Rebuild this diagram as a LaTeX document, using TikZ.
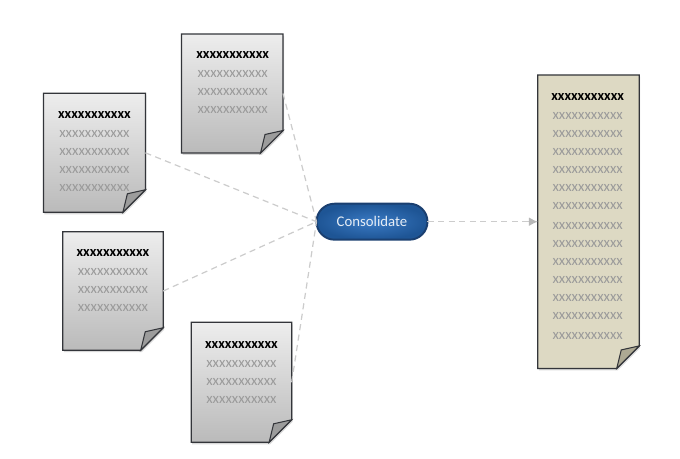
\documentclass[tikz,border=0pt]{standalone}
\usepackage{fontspec}
\setmainfont{Carlito}
\usepackage{tikz}
\usetikzlibrary{calc}
\usetikzlibrary{arrows.meta}
\usetikzlibrary{shapes.misc}
\definecolor{pageedge}{HTML}{33353A}
\definecolor{greyfold}{HTML}{9C9C9C}
\definecolor{tanpage}{HTML}{DDD9C3}
\definecolor{tanfold}{HTML}{ADA993}
\definecolor{pilledge}{HTML}{1A3F70}
\definecolor{pillin}{HTML}{3A7AC4}
\definecolor{pillout}{HTML}{1E5595}
\definecolor{linkgrey}{HTML}{CCCCCC}
\definecolor{tipgrey}{HTML}{B8B8B8}
\definecolor{rowgrey}{HTML}{9A9A9A}
\definecolor{pilltext}{HTML}{E6EDF5}
\tikzset{
    sheet/.style={inner sep=0pt, outer sep=0pt},
    greypage/.style={draw=pageedge, line width=0.7pt, top color=black!7, bottom color=black!27},
    tanpagefill/.style={draw=pageedge, line width=0.7pt, fill=tanpage},
    head/.style={inner sep=0pt, yshift=-0.55pt, text=black, font=\bfseries\fontsize{8.2pt}{8.2pt}\selectfont},
    row/.style={inner sep=0pt, yshift=-0.55pt, text=rowgrey, font=\fontsize{8.4pt}{8.4pt}\selectfont},
    link/.style={draw=linkgrey, line width=0.7pt, dash pattern=on 3.5pt off 2.5pt},
}
% outline of a sheet with its lower right corner turned up
\newcommand{\foldedsheet}[3]{
    \coordinate (R) at ($(#1.south east)+(0,-22.5)$);
    \coordinate (B) at ($(#1.south east)+(-22.5,0)$);
    \coordinate (K) at ($(R)+(-18,4)$);
    \fill[black, opacity=0.15] ($(#1.north west)+(1,2)$) -- ($(#1.north east)+(1,2)$) -- ($(R)+(1,2)$)
        -- ($(B)+(1,2)$) -- ($(#1.south west)+(1,2)$) -- cycle;
    \path[#2] (#1.north west) -- (#1.north east) -- (R) -- (B) -- (#1.south west) -- cycle;
    \filldraw[draw=pageedge, line width=0.6pt, fill=#3] (R) -- (K) -- (B) -- cycle;
}
\begin{document}
\begin{tikzpicture}[x=0.02cm, y=-0.02cm]
    \useasboundingbox (0,0) rectangle (680,459);
    \node[sheet, minimum width=2.03cm, minimum height=2.38cm] (docA) at (232.3,93.5) {};
    \node[sheet, minimum width=2.04cm, minimum height=2.38cm] (docB) at (94.4,152.8) {};
    \node[sheet, minimum width=2.01cm, minimum height=2.37cm] (docC) at (113,291) {};
    \node[sheet, minimum width=2.01cm, minimum height=2.40cm] (docD) at (241.4,382.3) {};
    \node[sheet, minimum width=2.03cm, minimum height=5.87cm] (result) at (588.5,221.7) {};
    \foldedsheet{docA}{greypage}{greyfold}
    \foldedsheet{docB}{greypage}{greyfold}
    \foldedsheet{docC}{greypage}{greyfold}
    \foldedsheet{docD}{greypage}{greyfold}
    \foldedsheet{result}{tanpagefill}{tanfold}
    \node[head] (headA) at (232.7,54.3) {xxxxxxxxxxx};
    \foreach \i/\y in {1/73,2/91,3/109}
        \node[row] (rowA\i) at (232.7,\y) {xxxxxxxxxxx};
    \node[head] (headB) at (94.5,114.3) {xxxxxxxxxxx};
    \foreach \i/\y in {1/133,2/151,3/169,4/187}
        \node[row] (rowB\i) at (94.5,\y) {xxxxxxxxxxx};
    \node[head] (headC) at (113,251.7) {xxxxxxxxxxx};
    \foreach \i/\y in {1/271,2/289,3/307}
        \node[row] (rowC\i) at (113,\y) {xxxxxxxxxxx};
    \node[head] (headD) at (241.5,344) {xxxxxxxxxxx};
    \foreach \i/\y in {1/363,2/381,3/399}
        \node[row] (rowD\i) at (241.5,\y) {xxxxxxxxxxx};
    \node[head] (headR) at (587.7,95.7) {xxxxxxxxxxx};
    \foreach \i/\y in {1/115,2/133,3/151,4/169,5/187,6/205,7/225,8/243,9/261,10/279,11/297,12/315,13/335}
        \node[row] (rowR\i) at (587.7,\y) {xxxxxxxxxxx};
    \node[rounded rectangle, draw=pilledge, line width=1.1pt, inner color=pillin, outer color=pillout,
        minimum width=2.22cm, minimum height=0.72cm, inner sep=0pt, outer sep=0pt,
        text=pilltext, font=\fontsize{8.4pt}{8.4pt}\selectfont] (consolidate) at (372,221.7) {Consolidate};
    \draw[link] (docA.east) -- (consolidate.west);
    \draw[link] (docB.east) -- (consolidate.west);
    \draw[link] (docC.east) -- (consolidate.west);
    \draw[link] (docD.east) -- (consolidate.west);
    \draw[link, -{Latex[length=5pt, width=5pt, color=tipgrey]}] (consolidate.east) -- (result.west);
\end{tikzpicture}
\end{document}
